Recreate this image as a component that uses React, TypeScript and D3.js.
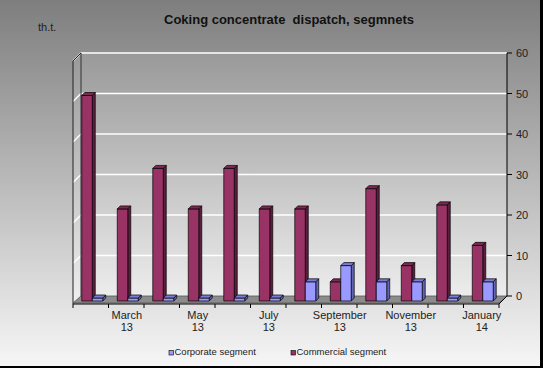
import React from 'react';
import * as d3 from 'd3';

const months = ['February', 'March', 'April', 'May', 'June', 'July', 'August', 'September', 'October', 'November', 'December', 'January'];
const years = ['13', '13', '13', '13', '13', '13', '13', '13', '13', '13', '13', '14'];
const commercial = [50, 22, 32, 22, 32, 22, 22, 4, 27, 8, 23, 13];
const corporate = [0, 0, 0, 0, 0, 0, 4, 8, 4, 4, 0, 4];
const yTicks = [0, 10, 20, 30, 40, 50, 60];

const W = 543;
const H = 368;
const FONT = 'Arial, "Liberation Sans", sans-serif';

const series = [
  { name: 'Commercial segment', values: commercial, front: '#993366', side: '#5c1e3e', top: '#7d2a52' },
  { name: 'Corporate segment', values: corporate, front: '#9999ff', side: '#6464b4', top: '#7b7bd6' },
];

export default function App() {
  // back wall and depth offset of the 3d box
  const depth = { dx: 8, dy: -8 };
  const front = { left: 73, right: 499, floor: 304 };
  const yBack = d3.scaleLinear().domain([0, 60]).range([front.floor + depth.dy, 53]);
  const yBar = d3.scaleLinear().domain([0, 60]).range([298, 55]);
  const barBottom = 301;

  const cats = months.map((m, i) => `${m} ${years[i]}`);
  const x = d3.scaleBand().domain(cats).range([front.left + 1.5, front.right + 1.5]).paddingInner(0.41).paddingOuter(0.205);
  const xs = d3.scaleBand().domain(series.map(s => s.name)).range([0, x.bandwidth()]);
  const edges = d3.range(cats.length + 1).map(i => front.left + i * (front.right - front.left) / cats.length);

  const bx = front.left + depth.dx;
  const bxr = front.right + depth.dx;
  const bd = 3;

  return (
    <svg width={W} height={H} style={{ position: 'absolute', left: 0, top: 0, display: 'block' }}>
      <defs>
        <linearGradient id="bg" x1="0" y1="0" x2="0" y2="1">
          <stop offset="0" stopColor="#7e7e7e" />
          <stop offset="1" stopColor="#f6f6f6" />
        </linearGradient>
        <linearGradient id="wall" gradientUnits="userSpaceOnUse" x1="0" y1="53" x2="0" y2="300">
          <stop offset="0" stopColor="#999999" />
          <stop offset="1" stopColor="#eeeeee" />
        </linearGradient>
      </defs>
      <rect x={0} y={0} width={W} height={H} fill="#000" />
      <rect x={0} y={0} width={W - 3} height={H - 2} fill="url(#bg)" />

      <text x={289} y={24} textAnchor="middle" fontFamily={FONT} fontSize={13} fontWeight="bold" fill="#111" style={{ whiteSpace: 'pre' }}>
        {'Coking concentrate  dispatch, segmnets'}
      </text>
      <text x={38} y={31} fontFamily={FONT} fontSize={11} fill="#222">th.t.</text>

      {/* back wall */}
      <rect x={bx} y={yBack(60)} width={bxr - bx} height={yBack(0) - yBack(60)} fill="url(#wall)" />
      {/* side wall */}
      <polygon
        points={`${front.left},${yBack(60) - depth.dy} ${bx},${yBack(60)} ${bx},${yBack(0)} ${front.left},${front.floor}`}
        fill="url(#wall)"
      />
      {yTicks.filter(t => t > 0).map(t => (
        <g key={t}>
          <line x1={bx} x2={bxr} y1={yBack(t)} y2={yBack(t)} stroke="#fff" strokeWidth={1.5} />
          <line x1={front.left} x2={bx} y1={yBack(t) - depth.dy} y2={yBack(t)} stroke="#fff" strokeWidth={1.5} />
        </g>
      ))}
      <line x1={bx} x2={bx} y1={yBack(60)} y2={yBack(0)} stroke="#333" strokeWidth={1} />
      <line x1={front.left} x2={front.left} y1={yBack(60) - depth.dy} y2={front.floor} stroke="#222" strokeWidth={1} />
      <line x1={front.left} x2={bx} y1={yBack(60) - depth.dy} y2={yBack(60)} stroke="#222" strokeWidth={1} />

      {/* floor */}
      <polygon
        points={`${front.left},${front.floor - 1} ${front.right},${front.floor - 1} ${bxr},${yBack(0)} ${bx},${yBack(0)}`}
        fill="#8c8c8c"
        stroke="#555"
        strokeWidth={0.8}
      />

      {/* bars */}
      {cats.map((c, i) => (
        <g key={c}>
          {series.map(s => {
            const x1 = (x(c) ?? 0) + (xs(s.name) ?? 0);
            const x2 = x1 + xs.bandwidth();
            const yt = Math.min(yBar(s.values[i]), barBottom - 1);
            return (
              <g key={s.name} stroke="#000" strokeWidth={0.7} strokeLinejoin="round">
                <polygon points={`${x2},${yt} ${x2 + bd},${yt - bd} ${x2 + bd},${barBottom - bd} ${x2},${barBottom}`} fill={s.side} />
                <rect x={x1} y={yt} width={x2 - x1} height={barBottom - yt} fill={s.front} />
                <polygon points={`${x1},${yt} ${x2},${yt} ${x2 + bd},${yt - bd} ${x1 + bd},${yt - bd}`} fill={s.top} />
              </g>
            );
          })}
        </g>
      ))}

      {/* category axis */}
      <line x1={front.left} x2={front.right} y1={front.floor} y2={front.floor} stroke="#000" />
      <line x1={front.right} x2={bxr} y1={front.floor} y2={yBack(0)} stroke="#000" />
      {edges.map((e, i) => (
        <line key={i} x1={e} x2={e} y1={front.floor} y2={front.floor + 4} stroke="#000" />
      ))}
      {cats.map((c, i) => i % 2 === 1 ? (
        <text key={c} x={(x(c) ?? 0) + x.bandwidth() / 2 - 1} y={319} textAnchor="middle" fontFamily={FONT} fontSize={11} fill="#222">
          <tspan x={(x(c) ?? 0) + x.bandwidth() / 2 - 1}>{months[i]}</tspan>
          <tspan x={(x(c) ?? 0) + x.bandwidth() / 2 - 1} dy={12}>{years[i]}</tspan>
        </text>
      ) : null)}

      {/* value axis */}
      <line x1={bxr} x2={bxr} y1={yBack(60)} y2={yBack(0)} stroke="#000" />
      {yTicks.map(t => (
        <g key={t}>
          <line x1={bxr} x2={bxr + 5} y1={yBack(t)} y2={yBack(t)} stroke="#000" />
          <text x={bxr + 9} y={yBack(t) + 4} fontFamily={FONT} fontSize={11} fill="#222">{t}</text>
        </g>
      ))}

      {/* legend */}
      {[series[1], series[0]].map((s, i) => {
        const lx = 169 + i * 122;
        return (
          <g key={s.name}>
            <rect x={lx} y={350.5} width={4.5} height={4.5} fill={s.front} stroke="#000" strokeWidth={0.6} />
            <text x={lx + 5.5} y={355} fontFamily={FONT} fontSize={9.5} fill="#222">{s.name}</text>
          </g>
        );
      })}
    </svg>
  );
}
